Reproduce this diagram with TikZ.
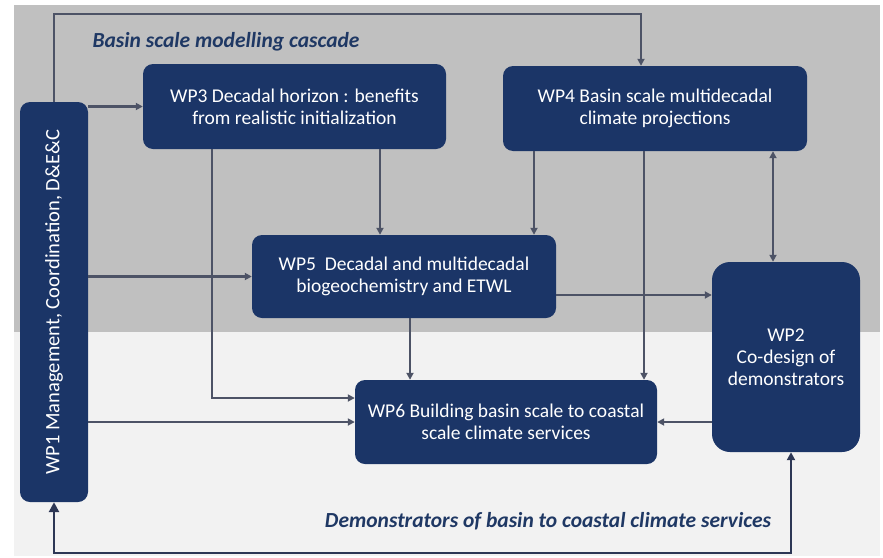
\documentclass[tikz,border=0pt]{standalone}
\usepackage{fontspec}
\setmainfont{Carlito}
\usepackage{tikz}
\usetikzlibrary{arrows.meta, positioning}

\definecolor{wpnavy}{RGB}{27,53,103}
\definecolor{wpline}{RGB}{77,83,102}
\definecolor{wpdark}{RGB}{45,55,85}
\definecolor{wptitle}{RGB}{31,56,100}
\definecolor{bgupper}{RGB}{192,192,192}
\definecolor{bglower}{RGB}{242,242,242}

\begin{document}
\begin{tikzpicture}[
  x=1pt, y=-1pt,
  every node/.style = {font=\fontsize{19.5}{22}\selectfont},
  wpbox/.style  = {rectangle, rounded corners=10pt,
                   fill=wpnavy, text=white,
                   minimum width=#1, minimum height=85pt,
                   align=center, inner sep=2pt},
  title/.style  = {text=wptitle, font=\fontsize{21.5}{24}\selectfont\bfseries\itshape},
  arr/.style    = {-{Triangle[length=7pt, width=7pt]}, line width=2.2pt, wpline},
  arrtwo/.style = {{Triangle[length=7pt, width=7pt]}-{Triangle[length=7pt, width=7pt]},
                   line width=2.2pt, wpline},
  arrout/.style = {{Triangle[length=10pt, width=10pt]}-{Triangle[length=8pt, width=8pt]},
                   line width=2.6pt, wpdark},
]
\useasboundingbox (0,0) rectangle (883,557);

%% == BACKGROUND: modelling cascade above, demonstrators below ==========
\fill[bgupper] (14,5) rectangle (880,332);
\fill[bglower] (14,332) rectangle (880,556);

\node[title] at (226,42) (cascade) {Basin scale modelling cascade};
\node[title] at (548,521) (demos) {Demonstrators of basin to coastal climate services};

%% == WORK PACKAGES ======================================================
\node[wpbox=68pt, rotate=90, minimum width=400pt, minimum height=68pt,
      font=\fontsize{20.5}{23}\selectfont] at (54,302) (wp1)
  {WP1 Management, Coordination, D\&E\&C};

\node[wpbox=303pt] at (294.5,106.5) (wp3)
  {WP3 Decadal horizon : benefits\\from realistic initialization};

\node[wpbox=304pt] at (655,108.5) (wp4)
  {WP4 Basin scale multidecadal\\climate projections};

\node[wpbox=304pt, minimum height=83pt] at (404,276.5) (wp5)
  {WP5\ \ Decadal and multidecadal\\biogeochemistry and ETWL};

\node[wpbox=302pt, minimum height=84pt] at (506,422) (wp6)
  {WP6 Building basin scale to coastal\\scale climate services};

\node[wpbox=148pt, minimum height=190pt, rounded corners=18pt] at (786,357) (wp2)
  {WP2\\Co-design of\\demonstrators};

%% -- entry and exit points off the box centres --------------------------
\coordinate (topline) at (0,14);
\coordinate (botline) at (0,553);
\coordinate (wp4in)   at ([xshift=-14pt]wp4.north);
\coordinate (wp5in3)  at ([xshift=-24pt]wp5.north);
\coordinate (wp5in4)  at ([xshift=130pt]wp5.north);
\coordinate (wp5out)  at ([yshift=-18.5pt]wp5.east);
\coordinate (wp3out)  at ([xshift=-82.5pt]wp3.south);
\coordinate (wp6in3)  at ([yshift=24pt]wp6.west);
\coordinate (wp6in5)  at ([xshift=-96pt]wp6.north);
\coordinate (wp6in4)  at ([xshift=138pt]wp6.north);
\coordinate (wp2top)  at ([xshift=-13pt]wp2.north);
\coordinate (wp2bot)  at ([xshift=5pt]wp2.south);

%% == CONNECTORS =========================================================
\draw[arr] (wp1.east) -- (wp1.east |- topline) -| (wp4in);
\draw[arr] (wp1.south |- wp3.west) -- (wp3.west);
\draw[arr] (wp1.south |- wp5.west) -- (wp5.west);
\draw[arr] (wp1.south |- wp6.west) -- (wp6.west);

\draw[arr] (wp3.south -| wp5in3) -- (wp5in3);
\draw[arr] (wp4.south -| wp5in4) -- (wp5in4);
\draw[arr] (wp3out) |- (wp6in3);
\draw[arr] (wp5.south -| wp6in5) -- (wp6in5);
\draw[arr] (wp4.south -| wp6in4) -- (wp6in4);

\draw[arr]    (wp5out) -- (wp5out -| wp2.west);
\draw[arrtwo] (wp4.south -| wp2top) -- (wp2top);
\draw[arr]    (wp2.west |- wp6.east) -- (wp6.east);

%% -- demonstrators feed back to WP1 and WP2 ------------------------------
\draw[arrout] (wp1.west) -- (wp1.west |- botline) -| (wp2bot);

\end{tikzpicture}
\end{document}
